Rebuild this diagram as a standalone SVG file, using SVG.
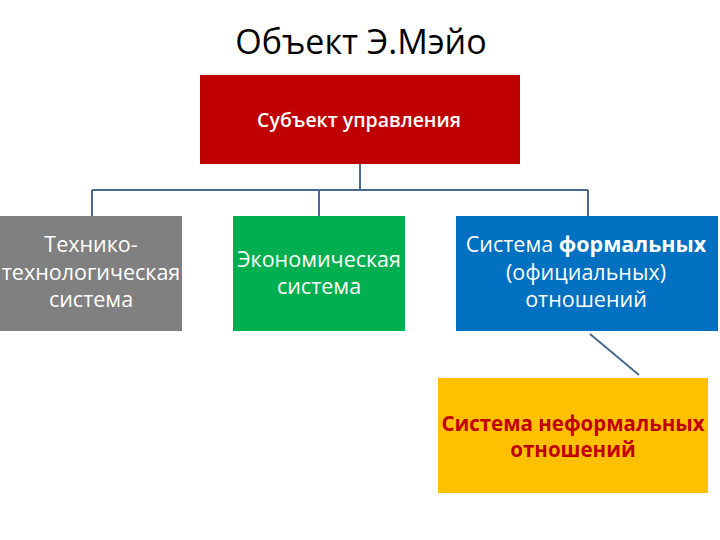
<svg xmlns="http://www.w3.org/2000/svg" width="720" height="540" viewBox="0 0 720 540">
<style>
text{font-family:"Open Sans","Liberation Sans",sans-serif;text-anchor:middle}
.t{font-size:21.5px;fill:#fff}
.c{stroke:#4A6990;stroke-width:2;fill:none}
</style>
<rect width="720" height="540" fill="#fff"/>
<text x="361" y="54" style="font-size:34px;fill:#000">Объект Э.Мэйо</text>
<g id="connectors">
<path class="c" d="M360 164V190M92 190H588M92 190V216M319 190V216M588 190V216"/>
<path class="c" d="M590 334L639 375"/>
</g>
<g id="subject">
<rect x="200" y="75" width="320" height="89" fill="#C00000"/>
<text x="359" y="127" style="font-size:19.5px;font-weight:600;fill:#fff">Субъект управления</text>
</g>
<g id="tech">
<rect x="0" y="216" width="182" height="115" fill="#808080"/>
<text class="t" x="91" y="252">Технико-</text>
<text class="t" x="91" y="280">технологическая</text>
<text class="t" x="91" y="307">система</text>
</g>
<g id="econ">
<rect x="233" y="216" width="172" height="115" fill="#00B050"/>
<text class="t" x="319" y="267">Экономическая</text>
<text class="t" x="319" y="294">система</text>
</g>
<g id="formal">
<rect x="456" y="216" width="262" height="115" fill="#0070C0"/>
<text class="t" x="586" y="252">Система <tspan font-weight="bold">формальных</tspan></text>
<text class="t" x="586" y="280">(официальных)</text>
<text class="t" x="586" y="307">отношений</text>
</g>
<g id="informal">
<rect x="438" y="378" width="270" height="115" fill="#FFC000"/>
<text x="573" y="431" style="font-size:20.5px;font-weight:bold;fill:#C00000">Система неформальных</text>
<text x="573" y="457" style="font-size:20.5px;font-weight:bold;fill:#C00000">отношений</text>
</g>
</svg>
